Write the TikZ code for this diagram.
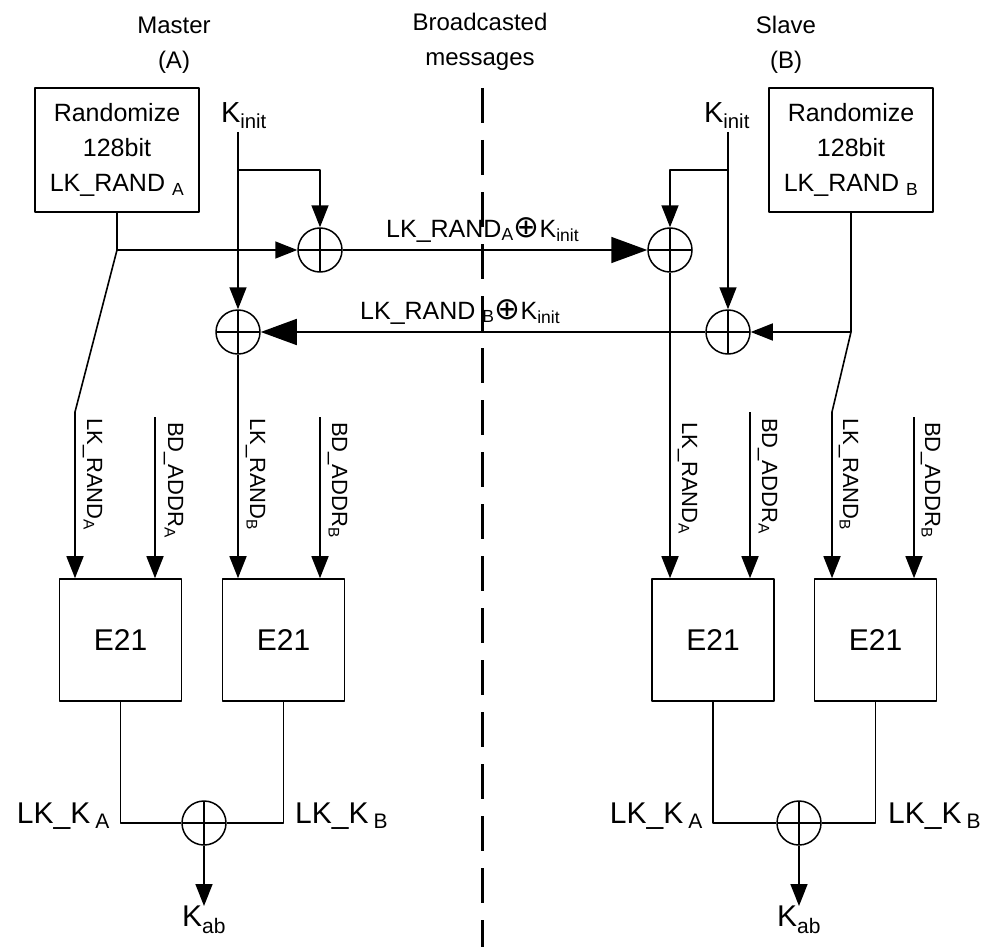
\documentclass[tikz,border=0pt]{standalone}
\usepackage{fontspec}
\setmainfont{Liberation Sans}
\newfontfamily\symbfont{DejaVu Sans}
\usetikzlibrary{arrows.meta,positioning}
\newcommand{\bigxor}{{\symbfont\fontsize{31}{31}\selectfont ⊕}}
\tikzset{
  every picture/.style={
    line join=round,
  },
  wire/.style={line width=1.6pt},
  tip/.style={wire,-{Triangle[length=22pt,width=17pt]}},
  bigtip/.style={wire,-{Triangle[length=36pt,width=26pt]}},
  % circle with a cross for the xor
  xorop/.style={circle,draw,line width=1.5pt,minimum size=44pt,inner sep=0pt,
    path picture={\draw[line width=1.5pt]
      (path picture bounding box.north)--(path picture bounding box.south)
      (path picture bounding box.west)--(path picture bounding box.east);}},
  randbox/.style={draw,line width=1.6pt,minimum width=164pt,minimum height=124pt,
    align=center,font=\fontsize{25}{35}\selectfont},
  e21box/.style={draw,line width=1.6pt,minimum width=122pt,minimum height=122pt,
    font=\fontsize{30}{36}\selectfont},
  heading/.style={align=center,font=\fontsize{24}{35}\selectfont},
  sidelbl/.style={rotate=-90,anchor=base west,inner sep=0pt,font=\fontsize{22}{26}\selectfont},
  msg/.style={anchor=base west,inner sep=0pt,font=\fontsize{25}{30}\selectfont},
  keylbl/.style={inner sep=0pt,font=\fontsize{30}{34}\selectfont},
}
\begin{document}
\begin{tikzpicture}[x=1pt,y=-1pt]
\useasboundingbox (0,0) rectangle (988,947);
\node[heading] (master) at (174,45) {Master\\(A)};
\node[heading] (bcast) at (480,42) {Broadcasted\\messages};
\node[heading] (slave) at (786,45) {Slave\\(B)};
\coordinate (divtop) at (482,88);
\coordinate (divbot) at (482,947);
\draw[line width=3pt,dash pattern=on 35pt off 17pt] (divtop) -- (divbot);

\node[randbox] (randA) at (117,150) {Randomize\\128bit\\LK\_RAND~\textsubscript{A}};
\node[randbox] (randB) at (851,150) {Randomize\\128bit\\LK\_RAND~\textsubscript{B}};
\node[keylbl,anchor=south,font=\fontsize{29}{32}\selectfont] (kinitA) at (244,129) {K\textsubscript{init}};
\node[keylbl,anchor=south,font=\fontsize{29}{32}\selectfont] (kinitB) at (727,129) {K\textsubscript{init}};

\node[xorop] (xorAup) at (320,250) {};
\node[xorop] (xorAlow) at (238,332) {};
\node[xorop] (xorBup) at (670,250) {};
\node[xorop] (xorBlow) at (728,332) {};

\node[e21box] (e21A1) at (120.5,640) {E21};
\node[e21box] (e21A2) at (283.5,640) {E21};
\node[e21box] (e21B1) at (713,640) {E21};
\node[e21box] (e21B2) at (875.5,640) {E21};

% master side
\coordinate (forkA) at (238,170);
\coordinate (splitA) at (randA.south |- xorAup);
\coordinate (bendA) at (75,412);
\draw[tip] (xorAlow |- 0,132) -- (xorAlow.north);
\draw[tip] (forkA) -| (xorAup.north);
\draw[wire] (randA.south) -- (splitA);
\draw[tip] (splitA) -- (xorAup.west);
\draw[tip] (splitA) -- (bendA) -- (bendA |- e21A1.north);
\draw[tip] (xorAlow.south) -- (xorAlow.south |- e21A2.north);

% slave side
\coordinate (forkB) at (728,170);
\coordinate (splitB) at (randB.south |- xorBlow);
\coordinate (bendB) at (832,412);
\draw[tip] (xorBlow |- 0,132) -- (xorBlow.north);
\draw[tip] (forkB) -| (xorBup.north);
\draw[wire] (randB.south) -- (splitB);
\draw[tip] (splitB) -- (xorBlow.east);
\draw[tip] (splitB) -- (bendB) -- (bendB |- e21B2.north);
\draw[tip] (xorBup.south) -- (xorBup.south |- e21B1.north);

% broadcasted values
\draw[bigtip] (xorAup.east) -- (xorBup.west);
\draw[bigtip] (xorBlow.west) -- (xorAlow.east);
\node[msg] (msgA) at (386,237) {LK\_RAND\textsubscript{A}\bigxor K\textsubscript{init}};
\node[msg] (msgB) at (360,319) {LK\_RAND~\textsubscript{B}\bigxor K\textsubscript{init}};

% address inputs
\coordinate (addrA1) at (155,417);
\coordinate (addrA2) at (320,417);
\coordinate (addrB1) at (750,412);
\coordinate (addrB2) at (914,417);
\draw[tip] (addrA1) -- (addrA1 |- e21A1.north);
\draw[tip] (addrA2) -- (addrA2 |- e21A2.north);
\draw[tip] (addrB1) -- (addrB1 |- e21B1.north);
\draw[tip] (addrB2) -- (addrB2 |- e21B2.north);

\node[sidelbl] (lblA1) at (87,418) {LK\_RAND\textsubscript{A}};
\node[sidelbl] (lblA2) at (168,422) {BD\_ADDR\textsubscript{A}};
\node[sidelbl] (lblA3) at (250,418) {LK\_RAND\textsubscript{B}};
\node[sidelbl] (lblA4) at (332,422) {BD\_ADDR\textsubscript{B}};
\node[sidelbl] (lblB1) at (682,422) {LK\_RAND\textsubscript{A}};
\node[sidelbl] (lblB2) at (762,418) {BD\_ADDR\textsubscript{A}};
\node[sidelbl] (lblB3) at (843,418) {LK\_RAND\textsubscript{B}};
\node[sidelbl] (lblB4) at (925,422) {BD\_ADDR\textsubscript{B}};

% link keys
\node[xorop] (xorAout) at (204,823) {};
\node[xorop] (xorBout) at (799,823) {};
\draw[wire] (e21A1.south) |- (xorAout.west);
\draw[wire] (e21A2.south) |- (xorAout.east);
\draw[wire] (e21B1.south) |- (xorBout.west);
\draw[wire] (e21B2.south) |- (xorBout.east);
\node[keylbl,anchor=base east] (lkkA1) at (110,823) {LK\_K\,\textsubscript{A}};
\node[keylbl,anchor=base west] (lkkB1) at (295,823) {LK\_K\,\textsubscript{B}};
\node[keylbl,anchor=base east] (lkkA2) at (703,823) {LK\_K\,\textsubscript{A}};
\node[keylbl,anchor=base west] (lkkB2) at (888,823) {LK\_K\,\textsubscript{B}};
\node[keylbl,anchor=north] (kabA) at (204,906) {K\textsubscript{ab}};
\node[keylbl,anchor=north] (kabB) at (799,906) {K\textsubscript{ab}};
\draw[tip] (xorAout.south) -- (kabA.north);
\draw[tip] (xorBout.south) -- (kabB.north);
\end{tikzpicture}
\end{document}
